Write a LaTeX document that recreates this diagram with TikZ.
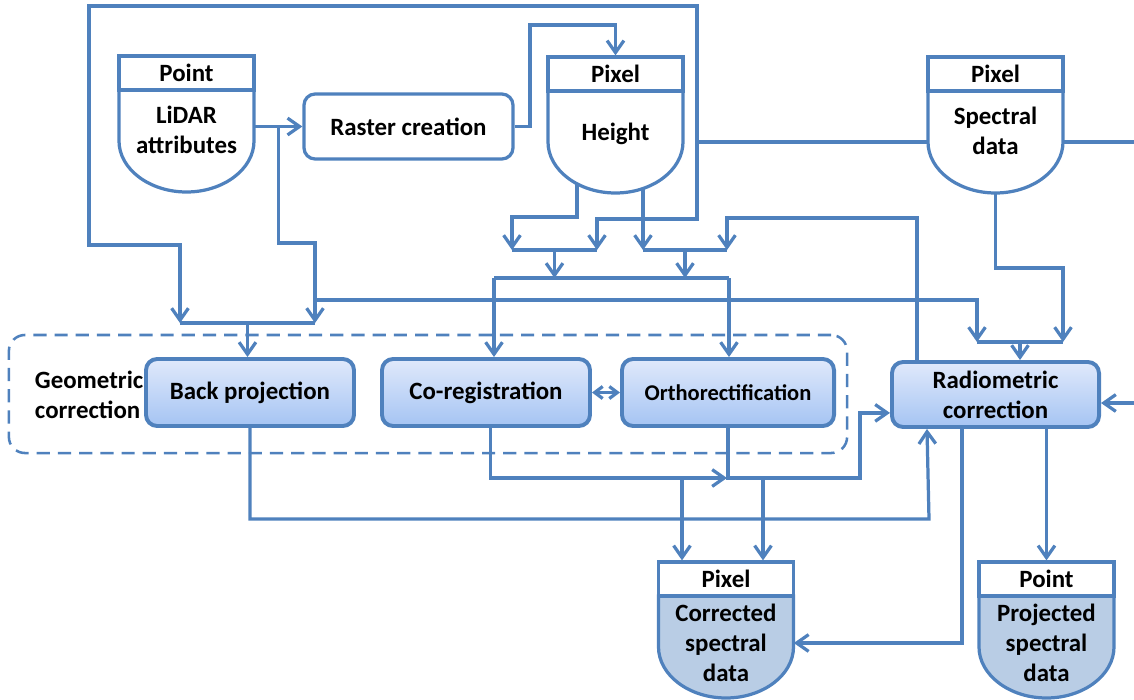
\documentclass[tikz,border=0pt]{standalone}
\usepackage{fontspec}
\setmainfont{Carlito}
\usetikzlibrary{arrows.meta,calc,backgrounds}

\definecolor{linecol}{RGB}{79,129,189}
\definecolor{boxtop}{RGB}{224,233,251}
\definecolor{boxbot}{RGB}{165,196,243}
\definecolor{datafill}{RGB}{185,205,229}

% data store: [text offset], name, x, top, header, body, fill
\newcommand{\datastore}[7][74]{%
	\path[draw=linecol, line width=2.3pt, fill=#7] (#3-67.5,#4+34) -- (#3+67.5,#4+34) -- (#3+67.5,#4+85)
		.. controls (#3+67.5,#4+113) and (#3+37,#4+136) .. (#3,#4+136)
		.. controls (#3-37,#4+136) and (#3-67.5,#4+113) .. (#3-67.5,#4+85) -- cycle;
	\node[headbox] (#2-head) at (#3,#4+17) {#5};
	\node[bodytext] (#2) at (#3,#4+#1) {#6};
	\coordinate (#2-w) at (#3-67.5,#4+85);
	\coordinate (#2-e) at (#3+67.5,#4+85);
	\coordinate (#2-b) at (#3,#4+136);
}

\begin{document}
\begin{tikzpicture}[x=0.025cm, y=-0.025cm,
	font=\fontsize{17.7}{21.3}\selectfont\bfseries,
	>={Straight Barb[length=0.3cm,width=0.42cm]},
	conn/.style={draw=linecol, line width=2.3pt},
	pbox/.style={draw=linecol, line width=2.8pt, rounded corners=0.28cm, minimum width=5.2cm, minimum height=1.675cm, align=center, inner sep=0},
	proc/.style={pbox, top color=boxtop, bottom color=boxbot},
	headbox/.style={draw=linecol, line width=2.3pt, fill=white, minimum width=3.375cm, minimum height=0.85cm, inner sep=0},
	bodytext/.style={minimum width=3.375cm, inner sep=0, align=center},
	groupbox/.style={draw=linecol, line width=1.8pt, dash pattern=on 0.33cm off 0.2cm, rounded corners=0.4cm, minimum width=20.95cm, minimum height=2.95cm}]
	\useasboundingbox (0,0) rectangle (1134,699);

	\datastore{lidar}{186.5}{56}{Point}{LiDAR\\attributes}{white}
	\datastore[77]{height}{615.5}{57}{Pixel}{Height}{white}
	\datastore{spectral}{995.5}{57}{Pixel}{Spectral\\data}{white}
	\datastore[81]{corrected}{726}{562}{Pixel}{Corrected\\spectral\\data}{datafill}
	\datastore[81]{projected}{1046.5}{562}{Point}{Projected\\spectral\\data}{datafill}

	\node[pbox, fill=white, line width=2.3pt, minimum width=5.225cm, minimum height=1.625cm] (raster) at (408.5,126.5) {Raster creation};
	\node[proc] (back) at (250,392.5) {Back projection};
	\node[proc] (coreg) at (486,392.5) {Co-registration};
	\node[proc, minimum width=5.3cm, font=\fontsize{16}{19}\selectfont\bfseries] (ortho) at (728,392.5) {Orthorectification};
	\node[proc, minimum width=5.175cm, minimum height=1.625cm] (radio) at (995.5,394.5) {Radiometric\\correction};
	\node[anchor=west, align=left] (geolabel) at (30,395) {Geometric\\correction};

	\coordinate (jb1) at (180,323);
	\coordinate (jb2) at (315,323);
	\coordinate (jl1) at (512,250);
	\coordinate (jl2) at (597,250);
	\coordinate (jr1) at (643,250);
	\coordinate (jr2) at (727,250);
	\coordinate (jm1) at (494,278);
	\coordinate (jm2) at (729,278);
	\coordinate (jq1) at (977,342);
	\coordinate (jq2) at (1063,342);
	\coordinate (jout) at (727,478);
	\coordinate (rimA) at (1134,142);
	\coordinate (rimB) at (1134,403);

	\begin{pgfonlayer}{background}
	\node[groupbox] (geo) at (428,394) {};

	% inputs
	\draw[conn,->] (lidar.east |- raster.west) -- (raster.west);
	\coordinate (tapA) at ($(lidar.east |- raster.west)!0.5!(raster.west)$);
	\coordinate (tapB) at (315,300);
	\coordinate (tapC) at (697,142);
	\draw[conn,->] (tapA) |- (315,243) -- (jb2);
	\draw[conn,->] (tapB) -| (jq1);
	\draw[conn,->] (spectral-w) -| (697,6) -| (89,245) -| (jb1);
	\draw[conn,->] (tapC) |- ($(jl2)+(0,-31)$) -- (jl2);
	\draw[conn] (spectral-e) -- (rimA);
	\draw[conn,->] (raster.east) -| (530,25) -| (height-head.north);
	\draw[conn,->] ($(height)+(-38.5,0)$) |- ($(jl1)+(0,-33)$) -- (jl1);
	\draw[conn,->] (jr1 |- height) -- (jr1);
	\draw[conn,->] ($(radio.north west)+(27,0)$) |- (727,218) -- (jr2);
	\draw[conn,->] (spectral-b) |- ($(jq2)+(0,-74)$) -- (jq2);

	% junctions
	\draw[conn] (jb1) -- (jb2);
	\draw[conn] (jl1) -- (jl2);
	\draw[conn] (jr1) -- (jr2);
	\draw[conn] (jm1) -- (jm2);
	\draw[conn] (jq1) -- (jq2);
	\coordinate (jbm) at ($(jb1)!0.5!(jb2)$);
	\coordinate (jlm) at ($(jl1)!0.5!(jl2)$);
	\coordinate (jrm) at ($(jr1)!0.5!(jr2)$);
	\coordinate (jqm) at ($(jq1)!0.5!(jq2)$);
	\draw[conn,->] (jbm) -- (jbm |- back.north);
	\draw[conn,->] (jlm) -- (jlm |- jm1);
	\draw[conn,->] (jrm) -- (jrm |- jm1);
	\draw[conn,->] (jm1) -- (jm1 |- coreg.north);
	\draw[conn,->] (jm2) -- (jm2 |- ortho.north);
	\draw[conn,->] (jqm) -- (jqm |- radio.north);

	% outputs
	\draw[conn,{Straight Barb[length=0.2cm,width=0.3cm]}-{Straight Barb[length=0.2cm,width=0.3cm]}] (coreg.east) -- (ortho.west);
	\draw[conn,->] ([xshift=0.12cm]coreg.south) |- (jout);
	\draw[conn,->] (ortho.south) |- (860,478) |- ([yshift=-0.46cm]radio.west);
	\coordinate (c1) at ($(corrected-head.north)+(-44,0)$);
	\coordinate (c2) at ($(corrected-head.north)+(37,0)$);
	\draw[conn,->] (c1 |- jout) -- (c1);
	\draw[conn,->] (c2 |- jout) -- (c2);
	\draw[conn,->] (back.south) |- (929,519) -- ($(radio.south west)+(37,0)$);
	\draw[conn,->] ($(radio.south west)+(72,0)$) |- (corrected.east);
	\draw[conn,->] (projected-head.north |- radio.south) -- (projected-head.north);
	\draw[conn,->] (rimB) -- (rimB -| radio.east);
	\end{pgfonlayer}
\end{tikzpicture}
\end{document}
